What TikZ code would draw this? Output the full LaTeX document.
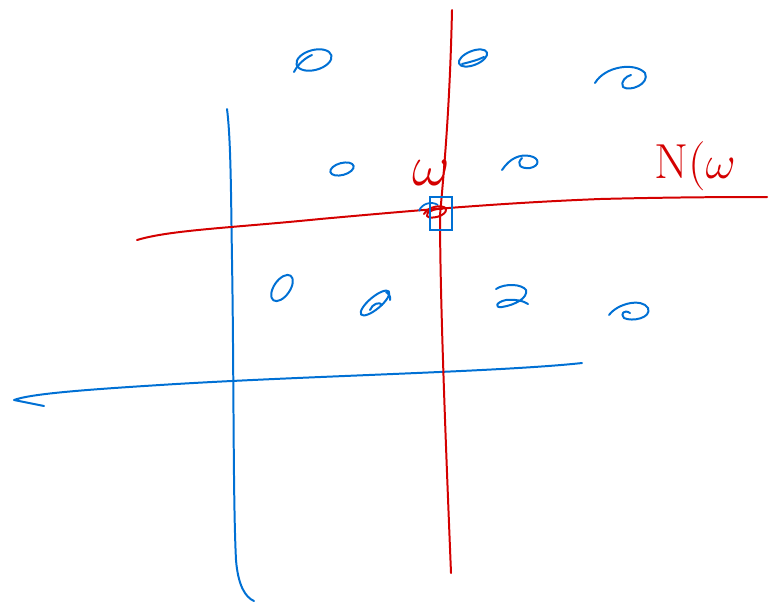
\documentclass[tikz,border=0pt]{standalone}
\usepackage{graphicx}
\usepackage{tikz}
\definecolor{penblue}{RGB}{0,112,212}
\definecolor{penred}{RGB}{212,0,0}
\tikzset{
    bluepen/.style={draw=penblue, line width=1.7pt, line cap=round, line join=round},
    redpen/.style={draw=penred, line width=1.7pt, line cap=round, line join=round},
    handtext/.style={text=penred, font=\fontsize{42}{44}\selectfont}
}

\begin{document}
\begin{tikzpicture}[x=0.03cm, y=-0.03cm]
        \useasboundingbox (0,0) rectangle (769,605);

        % Blue axes
        \draw[bluepen] (227,109) .. controls (231,140) and (231,200) .. (232,260)
            .. controls (234,380) and (233,500) .. (236,560)
            .. controls (238,585) and (245,597) .. (254,601);
        \draw[bluepen] (582,363) .. controls (500,372) and (300,376) .. (160,385)
            .. controls (80,390) and (30,394) .. (14,400) -- (44,406);

        % Red axes
        \draw[redpen] (452,10) .. controls (450,100) and (445,160) .. (440,215)
            .. controls (440,300) and (446,450) .. (451,573);
        \draw[redpen] (137,240) .. controls (170,230) and (230,228) .. (320,219)
            .. controls (420,210) and (500,203) .. (600,199)
            .. controls (680,197) and (740,197) .. (767,197);

        % Data points
        \draw[bluepen] (314,60) ellipse [x radius=18, y radius=10, rotate=15];
        \draw[bluepen] (294,72) .. controls (298,64) and (305,58) .. (312,55);
        \draw[bluepen] (473,58) ellipse [x radius=15, y radius=7, rotate=22];
        \draw[bluepen] (462,64) .. controls (470,62) and (478,60) .. (484,57);
        \draw[bluepen] (595,83) .. controls (605,66) and (635,62) .. (645,73)
            .. controls (650,84) and (630,92) .. (623,87)
            .. controls (620,82) and (626,76) .. (631,75);
        \draw[bluepen] (342,169) ellipse [x radius=12, y radius=6, rotate=15];
        \draw[bluepen] (502,170) .. controls (510,158) and (520,154) .. (530,156)
            .. controls (540,158) and (540,166) .. (530,168)
            .. controls (520,169) and (516,164) .. (522,158);
        \draw[bluepen] (282,288) ellipse [x radius=15, y radius=8, rotate=55];
        \draw[bluepen] (375,303) ellipse [x radius=18, y radius=6, rotate=40];
        \draw[bluepen] (370,310) .. controls (372,304) and (380,301) .. (382,305);
        \draw[bluepen] (386,292) .. controls (389,294) and (391,297) .. (390,300);
        \draw[bluepen] (496,289) .. controls (505,283) and (522,284) .. (526,290)
            .. controls (528,298) and (515,305) .. (502,307)
            .. controls (494,308) and (496,302) .. (506,300)
            .. controls (515,299) and (524,301) .. (528,304);
        \draw[bluepen] (609,315) .. controls (618,303) and (642,298) .. (648,308)
            .. controls (652,318) and (632,322) .. (624,318)
            .. controls (620,314) and (624,309) .. (630,313);

        % Selected point
        \draw[penblue, line width=1.5pt] (419,211) .. controls (422,203) and (432,201) .. (438,205);
        \draw[redpen] (424,214) .. controls (428,206) and (444,204) .. (446,209)
            .. controls (447,216) and (430,220) .. (427,216)
            .. controls (425,212) and (436,208) .. (442,209);
        \draw[penblue, line width=1.4pt] (430,197) rectangle (452,230);

        % Labels
        \node[handtext] (wlabel) at (431,173) {\scalebox{2}{$\omega$}};
        \node[handtext, anchor=west] (nlabel) at (650,166) {N(\scalebox{1.6}{$\omega$}};
\end{tikzpicture}
\end{document}
